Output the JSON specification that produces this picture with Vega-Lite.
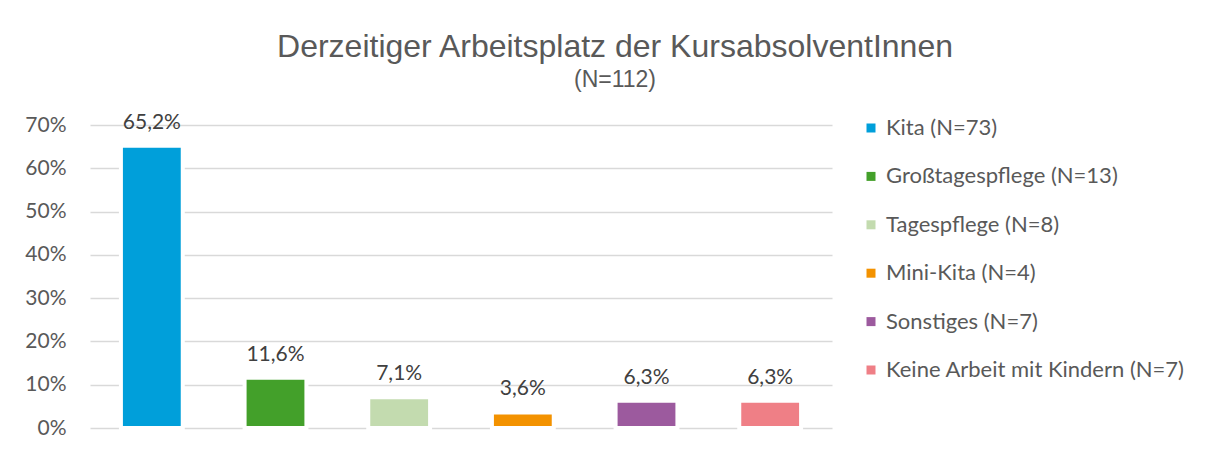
{
  "$schema": "https://vega.github.io/schema/vega-lite/v6.json",
  "width": 742,
  "height": 303,
  "autosize": {"type": "none"},
  "padding": {"left": 90, "top": 125, "right": 383, "bottom": 25},
  "background": "white",
  "config": {
    "view": {"stroke": null},
    "font": "Lato",
    "locale": {"number": {"decimal": ",", "thousands": ".", "grouping": [3], "currency": ["", " €"]}}
  },
  "title": {
    "text": "Derzeitiger Arbeitsplatz der KursabsolventInnen",
    "subtitle": "(N=112)",
    "anchor": "middle",
    "frame": "group",
    "dx": 154,
    "offset": 19,
    "font": "Liberation Sans",
    "fontSize": 32,
    "fontWeight": "normal",
    "color": "#595959",
    "subtitleFont": "Liberation Sans",
    "subtitleFontSize": 23,
    "subtitleColor": "#595959",
    "subtitlePadding": 5
  },
  "data": {
    "values": [
      {"kategorie": "Kita (N=73)", "anteil": 0.652},
      {"kategorie": "Großtagespflege (N=13)", "anteil": 0.116},
      {"kategorie": "Tagespflege (N=8)", "anteil": 0.071},
      {"kategorie": "Mini-Kita (N=4)", "anteil": 0.036},
      {"kategorie": "Sonstiges (N=7)", "anteil": 0.063},
      {"kategorie": "Keine Arbeit mit Kindern (N=7)", "anteil": 0.063}
    ]
  },
  "encoding": {
    "x": {"field": "kategorie", "type": "nominal", "sort": null, "axis": null, "scale": {"paddingInner": 0.5, "paddingOuter": 0.25}},
    "y": {
      "field": "anteil", "type": "quantitative",
      "scale": {"domain": [0, 0.7]},
      "axis": {
        "values": [0, 0.1, 0.2, 0.3, 0.4, 0.5, 0.6, 0.7],
        "format": ".0%", "title": null, "domain": false, "ticks": false,
        "labelPadding": 24, "labelFont": "Lato", "labelFontSize": 21, "labelColor": "#595959",
        "gridColor": "#d9d9d9", "gridWidth": 1.5
      }
    }
  },
  "layer": [
    {
      "mark": {"type": "bar", "stroke": "white", "strokeWidth": 4},
      "encoding": {
        "color": {
          "field": "kategorie", "type": "nominal", "sort": null,
          "scale": {
            "domain": ["Kita (N=73)", "Großtagespflege (N=13)", "Tagespflege (N=8)", "Mini-Kita (N=4)", "Sonstiges (N=7)", "Keine Arbeit mit Kindern (N=7)"],
            "range": ["#009FDA", "#43A02A", "#C3DBAF", "#F39200", "#9C5A9E", "#EF7F86"]
          },
          "legend": {
            "title": null, "orient": "none", "legendX": 770, "legendY": -8,
            "symbolType": "square", "symbolSize": 81, "symbolStrokeWidth": 0,
            "labelFont": "Lato", "labelFontSize": 22, "labelColor": "#595959",
            "labelOffset": 4, "rowPadding": 26.4, "labelLimit": 400
          }
        }
      }
    },
    {
      "mark": {"type": "text", "baseline": "alphabetic", "dy": -17, "font": "Lato", "fontSize": 21, "color": "#404040"},
      "encoding": {
        "text": {"field": "anteil", "type": "quantitative", "format": ".1%"}
      }
    }
  ]
}
